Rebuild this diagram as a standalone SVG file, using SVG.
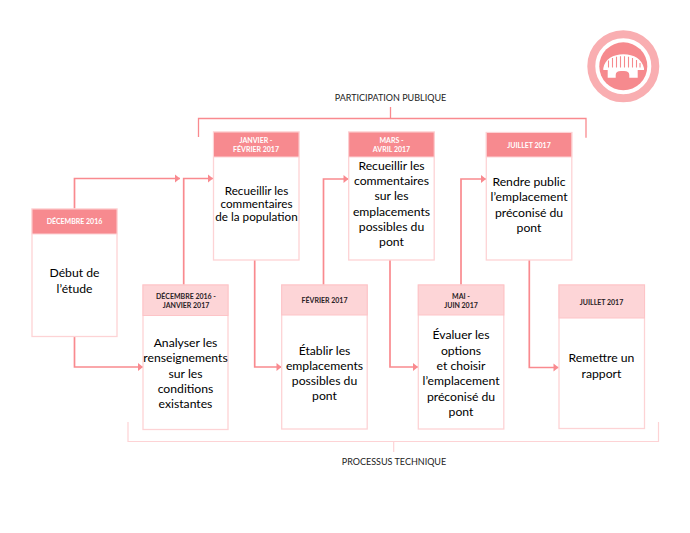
<svg xmlns="http://www.w3.org/2000/svg" width="690" height="533" viewBox="0 0 690 533">
<defs>
<marker id="arrow" markerUnits="userSpaceOnUse" markerWidth="6" markerHeight="9" refX="5.5" refY="4.5" orient="auto"><path d="M0.5 0.5 L5.5 4.5 L0.5 8.5 Z" fill="#f98a8f"/></marker>
</defs>
<style>
text{font-family:"Lato","Open Sans","Liberation Sans",sans-serif;text-anchor:middle}
.box{fill:#fff;stroke:#fdd3d5;stroke-width:1.3}
.hd{fill:#f78a8f;stroke:#fdd3d5;stroke-width:1}
.hl{fill:#fdd5d7;stroke:#fdc4c7;stroke-width:1}
.dw{font-size:7px;font-weight:700;fill:#fff}
.dk{font-size:7px;font-weight:700;fill:#2a2226}
.t{font-size:12.2px;fill:#000}
.s{font-size:11.7px}
.lab{font-size:9px;fill:#222}
.c{fill:none;stroke:#f98a8f;stroke-width:1.7;marker-end:url(#arrow)}
</style>
<rect width="690" height="533" fill="#fff"/>
<g id="logo">
<circle cx="623.3" cy="66.3" r="32" fill="none" stroke="#f9aeb1" stroke-width="8"/>
<circle cx="623.3" cy="66.3" r="24" fill="#f68a8e"/>
<path d="M603.3 70 V68.3 C605 59 613 54.3 623.5 54.3 C634 54.3 642 59 644 68.3 V70 H637.7 V77.7 H629.3 V75 Q629.3 71 624 71 H621 Q615.7 71 615.7 75 V77.7 H607.7 V70 Z" fill="#fff"/>
<path d="M608.5 67.5V60.5M612.5 67.5V58M616.5 67.5V56.8M620.5 67.5V56.2M624.5 67.5V56.2M628.5 67.5V56.8M632.5 67.5V58M636.5 67.5V60M640 67.5V63" stroke="#f68a8e" stroke-width="1.1" fill="none"/>
</g>
<g id="connectors">
<path class="c" d="M74.5 209V178.5H180"/>
<path class="c" d="M183.7 285V178.5H213"/>
<path class="c" d="M74.5 337V367H143"/>
<path class="c" d="M254.7 260V367H281.5"/>
<path class="c" d="M323.5 285V179H348.5"/>
<path class="c" d="M390 260V367H418"/>
<path class="c" d="M461 285V179H486"/>
<path d="M529.3 260V367.5H558.5" class="c"/>
<path d="M198.5 137V118.5H586V137.7M390.5 107V118.5" fill="none" stroke="#f98a8f" stroke-width="1.3"/>
<path d="M128 422V441.5H658.5V422M393.7 441.5V452" fill="none" stroke="#fdd3d5" stroke-width="1.2"/>
</g>
<g id="label-participation"><text class="lab" x="390.5" y="101">PARTICIPATION PUBLIQUE</text></g>
<g id="label-processus"><text class="lab" x="394" y="465">PROCESSUS TECHNIQUE</text></g>
<g id="n1">
<rect class="box" x="32" y="209" width="85" height="127.5"/><rect class="hd" x="32" y="209" width="85" height="25"/>
<text class="dw" x="74.5" y="224">DÉCEMBRE 2016</text>
<text class="t" x="74.5" y="277">Début de</text><text class="t" x="74.5" y="292.5">l’étude</text>
</g>
<g id="n2">
<rect class="box" x="143" y="285" width="85" height="144.5"/><rect class="hl" x="143" y="285" width="85" height="30.5"/>
<text class="dk" x="186" y="298.5">DÉCEMBRE 2016 -</text><text class="dk" x="186" y="308">JANVIER 2017</text>
<text class="t" x="185.5" y="347">Analyser les</text><text class="t" x="185.5" y="362">renseignements</text><text class="t" x="185.5" y="377.5">sur les</text><text class="t" x="185.5" y="392.5">conditions</text><text class="t" x="185.5" y="407.5">existantes</text>
</g>
<g id="n3">
<rect class="box" x="213.5" y="132" width="85.5" height="128"/><rect class="hd" x="213.5" y="132" width="85.5" height="25"/>
<text class="dw" x="256" y="142.5">JANVIER -</text><text class="dw" x="256" y="152">FÉVRIER 2017</text>
<text class="t s" x="256.5" y="195">Recueillir les</text><text class="t s" x="256.5" y="208">commentaires</text><text class="t s" x="256.5" y="221">de la population</text>
</g>
<g id="n4">
<rect class="box" x="281.7" y="285" width="85.5" height="144"/><rect class="hl" x="281.7" y="285" width="85.5" height="30"/>
<text class="dk" x="324.5" y="303">FÉVRIER 2017</text>
<text class="t" x="324.5" y="354.5">Établir les</text><text class="t" x="324.5" y="369.5">emplacements</text><text class="t" x="324.5" y="385">possibles du</text><text class="t" x="324.5" y="400">pont</text>
</g>
<g id="n5">
<rect class="box" x="348.7" y="132" width="85.5" height="128"/><rect class="hd" x="348.7" y="132" width="85.5" height="25"/>
<text class="dw" x="391.5" y="142.5">MARS -</text><text class="dw" x="391.5" y="152">AVRIL 2017</text>
<text class="t" x="391.5" y="169.5">Recueillir les</text><text class="t" x="391.5" y="185">commentaires</text><text class="t" x="391.5" y="200">sur les</text><text class="t" x="391.5" y="215.5">emplacements</text><text class="t" x="391.5" y="230.5">possibles du</text><text class="t" x="391.5" y="246">pont</text>
</g>
<g id="n6">
<rect class="box" x="418.3" y="285" width="85.5" height="144"/><rect class="hl" x="418.3" y="285" width="85.5" height="30"/>
<text class="dk" x="461" y="298.5">MAI -</text><text class="dk" x="461" y="308">JUIN 2017</text>
<text class="t" x="461" y="338.5">Évaluer les</text><text class="t" x="461" y="354.5">options</text><text class="t" x="461" y="369.5">et choisir</text><text class="t" x="461" y="385">l’emplacement</text><text class="t" x="461" y="400.5">préconisé du</text><text class="t" x="461" y="415.5">pont</text>
</g>
<g id="n7">
<rect class="box" x="486.3" y="132.5" width="85.5" height="127.5"/><rect class="hd" x="486.3" y="132.5" width="85.5" height="24.5"/>
<text class="dw" x="529" y="148">JUILLET 2017</text>
<text class="t" x="529" y="185.5">Rendre public</text><text class="t" x="529" y="201">l’emplacement</text><text class="t" x="529" y="216.5">préconisé du</text><text class="t" x="529" y="231.5">pont</text>
</g>
<g id="n8">
<rect class="box" x="559" y="285" width="85.5" height="143.5"/><rect class="hl" x="559" y="285" width="85.5" height="33"/>
<text class="dk" x="601.5" y="304.5">JUILLET 2017</text>
<text class="t" x="601.5" y="362">Remettre un</text><text class="t" x="601.5" y="377.5">rapport</text>
</g>
</svg>
